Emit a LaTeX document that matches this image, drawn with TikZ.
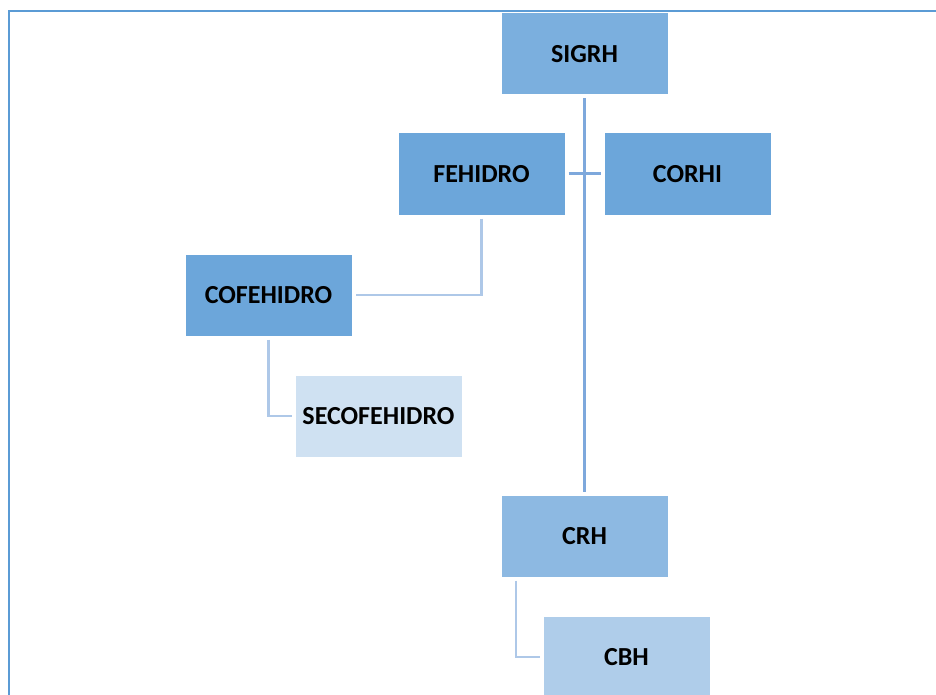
\documentclass[tikz,border=0pt]{standalone}
\usepackage{fontspec}
\setmainfont{Carlito}
\definecolor{cSig}{HTML}{7BAFDE}
\definecolor{cMid}{HTML}{6CA6DA}
\definecolor{cCrh}{HTML}{8DB9E2}
\definecolor{cSec}{HTML}{CFE1F2}
\definecolor{cCbh}{HTML}{AFCDEA}
\definecolor{cMain}{HTML}{7EA8DC}
\definecolor{cLight}{HTML}{AEC8E8}
\definecolor{cFrame}{HTML}{5B9BD5}
\begin{document}
\begin{tikzpicture}[x=1pt,y=-1pt,
  box/.style={rectangle,draw=white,line width=1pt,minimum width=167pt,minimum height=82pt,inner sep=0pt,
    font=\fontsize{26}{30}\selectfont\bfseries,text=black},
  mainline/.style={draw=cMain,line width=3pt},
  lightline/.style={draw=cLight,line width=2.5pt}]
\useasboundingbox (0,0) rectangle (936,695);
\draw[cFrame,line width=2pt] (9,700) -- (9,11) -- (940,11);
\node[box,fill=cSig] (sigrh) at (584.5,54) {SIGRH};
\node[box,fill=cMid] (fehidro) at (481.5,174) {FEHIDRO};
\node[box,fill=cMid] (corhi) at (687.5,174) {CORHI};
\node[box,fill=cMid] (cofehidro) at (268.5,295) {COFEHIDRO};
\node[box,fill=cSec] (secofehidro) at (378.5,416) {SECOFEHIDRO};
\node[box,fill=cCrh] (crh) at (584.5,536) {CRH};
\node[box,fill=cCbh] (cbh) at (626.5,657) {CBH};
\coordinate (jn) at (584.5,174);
\draw[mainline,shorten <=3pt,shorten >=3pt] (sigrh.south) -- (crh.north);
\draw[mainline,shorten <=3pt] (fehidro.east) -- (jn);
\draw[mainline,shorten <=3pt] (corhi.west) -- (jn);
\draw[lightline,shorten <=3pt,shorten >=3pt] (fehidro.south) |- (cofehidro.east);
\draw[lightline,shorten <=3pt,shorten >=3pt] (cofehidro.south) |- (secofehidro.west);
\draw[lightline,shorten <=3pt,shorten >=3pt] ([xshift=-68.5pt]crh.south) |- (cbh.west);
\end{tikzpicture}
\end{document}
